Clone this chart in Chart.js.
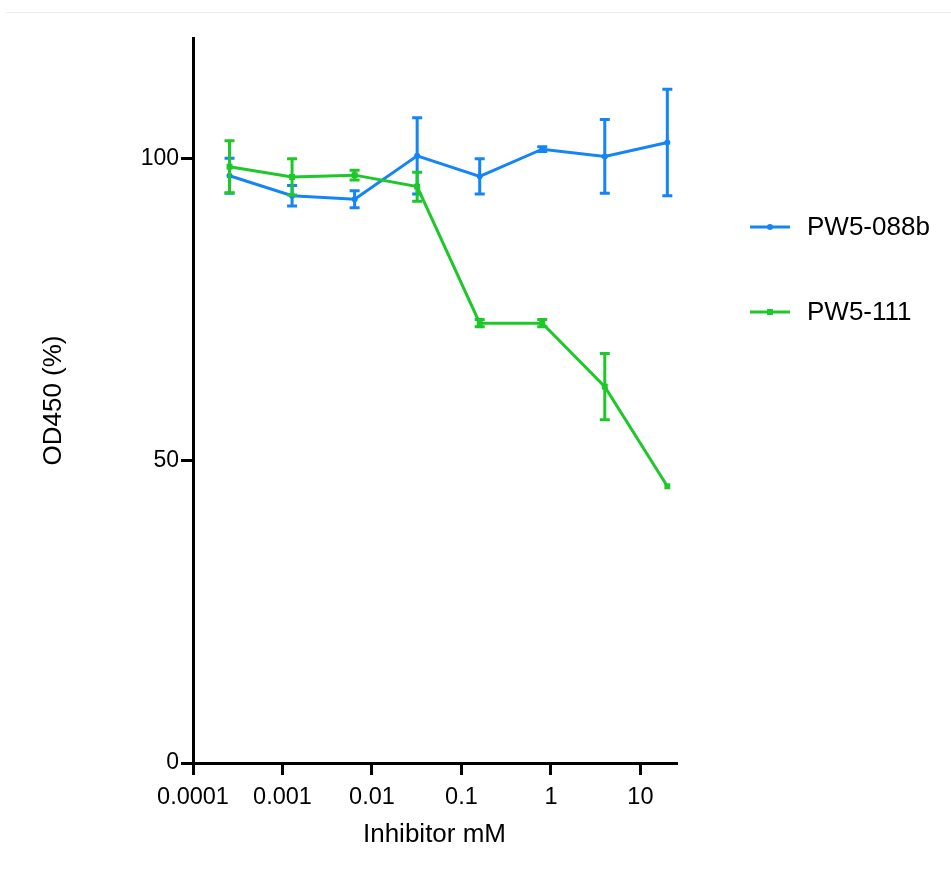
<!DOCTYPE html>
<html>
<head>
<meta charset="utf-8">
<script src="https://cdn.jsdelivr.net/npm/chart.js@4/dist/chart.umd.min.js"></script>
<style>
  html, body { margin: 0; padding: 0; background: #fff; }
  #wrap { position: relative; width: 951px; height: 871px; }
  #topline { position: absolute; left: 6px; right: 0; top: 12px; height: 1px; background: #eeeeee; }
</style>
</head>
<body>
<div id="wrap">
  <div id="topline"></div>
  <canvas id="chart" width="951" height="871"></canvas>
</div>
<script>
// ---- data ----
const concentrations = [0.000256, 0.00128, 0.0064, 0.032, 0.16, 0.8, 4, 20];

const pw088b    = [97.2, 93.9, 93.3, 100.5, 97.1, 101.6, 100.4, 102.7];
const pw088bErr = [2.9, 1.7, 1.4, 6.3, 2.9, 0.4, 6.1, 8.8];

const pw111     = [98.7, 97.0, 97.3, 95.4, 72.8, 72.8, 62.3, 45.8];
const pw111Err  = [4.3, 3.0, 0.8, 2.4, 0.6, 0.6, 5.5, 0];

const xTicks = [0.0001, 0.001, 0.01, 0.1, 1, 10];
const yTicks = [0, 50, 100];

const seriesNames = ["PW5-088b", "PW5-111"];
const BLUE = "#1485f6";
const GREEN = "#1ec72a";
const FONT = "'Liberation Sans', Arial, sans-serif";

function toPoints(ys) {
  return concentrations.map((c, i) => ({ x: c, y: ys[i] }));
}

/* error bars, drawn with each dataset */
const errorBars = {
  id: "errorBars",
  afterDatasetDraw(chart, args) {
    const ds = chart.data.datasets[args.index];
    if (!ds.errors) return;
    const ctx = chart.ctx;
    const xs = chart.scales.x, ys = chart.scales.y;
    ctx.save();
    ctx.strokeStyle = ds.borderColor;
    ctx.lineWidth = 3;
    ctx.lineCap = "butt";
    ds.data.forEach((p, i) => {
      const e = ds.errors[i];
      if (!e) return;
      const x = xs.getPixelForValue(p.x);
      const y0 = ys.getPixelForValue(p.y - e);
      const y1 = ys.getPixelForValue(p.y + e);
      ctx.beginPath();
      ctx.moveTo(x, y0); ctx.lineTo(x, y1);
      ctx.moveTo(x - 5, y0); ctx.lineTo(x + 5, y0);
      ctx.moveTo(x - 5, y1); ctx.lineTo(x + 5, y1);
      ctx.stroke();
    });
    ctx.restore();
  }
};

/* legend on the right, like the Prism export */
const sideLegend = {
  id: "sideLegend",
  afterDraw(chart) {
    const ctx = chart.ctx;
    const rows = [227, 312];
    ctx.save();
    chart.data.datasets.forEach((ds, i) => {
      const y = rows[i];
      ctx.strokeStyle = ds.borderColor;
      ctx.lineWidth = 3;
      ctx.beginPath();
      ctx.moveTo(750, y); ctx.lineTo(790, y);
      ctx.stroke();
      ctx.fillStyle = ds.borderColor;
      if (ds.pointStyle === "rect") {
        ctx.fillRect(767, y - 3, 6, 6);
      } else {
        ctx.beginPath();
        ctx.arc(770, y, 3, 0, Math.PI * 2);
        ctx.fill();
      }
      ctx.fillStyle = "#000";
      ctx.font = "26px " + FONT;
      ctx.textBaseline = "middle";
      ctx.textAlign = "left";
      ctx.fillText(ds.label, 807, y + 1);
    });
    ctx.restore();
  }
};

const tickGrid = {
  display: true,
  drawOnChartArea: false,
  drawTicks: true,
  tickLength: 12,
  lineWidth: 3,
  color: "#000"
};

new Chart(document.getElementById("chart"), {
  type: "line",
  data: {
    datasets: [
      {
        label: seriesNames[0],
        data: toPoints(pw088b),
        errors: pw088bErr,
        borderColor: BLUE,
        backgroundColor: BLUE,
        borderWidth: 3,
        pointStyle: "circle",
        pointRadius: 3,
        pointBorderWidth: 0,
        tension: 0,
        order: 2
      },
      {
        label: seriesNames[1],
        data: toPoints(pw111),
        errors: pw111Err,
        borderColor: GREEN,
        backgroundColor: GREEN,
        borderWidth: 3,
        pointStyle: "rect",
        pointRadius: 4.2,
        pointBorderWidth: 0,
        tension: 0,
        order: 1
      }
    ]
  },
  options: {
    responsive: false,
    animation: false,
    layout: { padding: { left: 0, top: 38, right: 275, bottom: 0 } },
    plugins: { legend: { display: false }, tooltip: { enabled: false } },
    scales: {
      x: {
        type: "logarithmic",
        min: 0.0001,
        max: 25,
        afterBuildTicks: (s) => { s.ticks = xTicks.map(v => ({ value: v })); },
        afterFit: (s) => { s.height = 108; },
        border: { display: true, color: "#000", width: 3 },
        grid: tickGrid,
        ticks: {
          color: "#000",
          font: { family: FONT, size: 23.5 },
          padding: 8,
          maxRotation: 0,
          autoSkip: false,
          callback: (v) => String(v)
        },
        title: {
          display: true,
          text: "Inhibitor mM",
          color: "#000",
          font: { family: FONT, size: 26 },
          padding: { top: 0, bottom: 21 }
        }
      },
      y: {
        min: 0,
        max: 120,
        afterBuildTicks: (s) => { s.ticks = yTicks.map(v => ({ value: v })); },
        afterFit: (s) => { s.width = 193; },
        border: { display: true, color: "#000", width: 3 },
        grid: tickGrid,
        ticks: {
          color: "#000",
          font: { family: FONT, size: 23 },
          padding: 2
        },
        title: {
          display: true,
          text: "OD450 (%)",
          color: "#000",
          font: { family: FONT, size: 26 },
          padding: { top: 38, bottom: 0 }
        }
      }
    }
  },
  plugins: [errorBars, sideLegend]
});
</script>
</body>
</html>
